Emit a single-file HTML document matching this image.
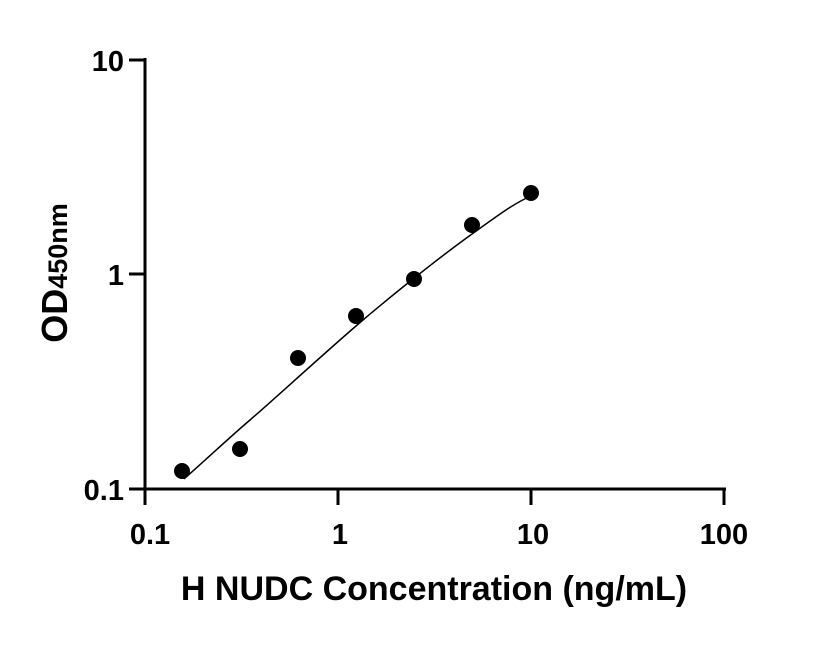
<!DOCTYPE html>
<html><head><style>body{margin:0;background:#fff}</style></head><body>
<svg width="816" height="640" xmlns="http://www.w3.org/2000/svg" font-family="Liberation Sans, sans-serif" font-weight="bold">
<g stroke="#000" stroke-width="3" fill="none">
<line x1="145" y1="58" x2="145" y2="505"/>
<line x1="129" y1="489" x2="726" y2="489"/>
<line x1="129" y1="60" x2="145" y2="60"/>
<line x1="129" y1="274" x2="145" y2="274"/>
<line x1="338" y1="489" x2="338" y2="505"/>
<line x1="531" y1="489" x2="531" y2="505"/>
<line x1="724" y1="489" x2="724" y2="505"/>
</g>
<path d="M184,479 C210,456 230,437 250,420 S320,357 356,326 S440,257 472,234 S515,203 531,196" stroke="#000" stroke-width="1.5" fill="none"/>
<g fill="#000">
<circle cx="182" cy="471" r="8"/><circle cx="240" cy="449" r="8"/><circle cx="298" cy="358" r="8"/><circle cx="356" cy="316" r="8"/><circle cx="414" cy="279" r="8"/><circle cx="472" cy="225" r="8"/><circle cx="531" cy="193" r="8"/>
</g>
<g font-size="29" text-anchor="end">
<text x="124" y="71">10</text><text x="124" y="285">1</text><text x="124" y="500">0.1</text>
</g>
<g font-size="29" text-anchor="middle">
<text x="150" y="544">0.1</text><text x="340" y="544">1</text><text x="533" y="544">10</text><text x="724" y="544">100</text>
</g>
<text x="434" y="600" font-size="34" text-anchor="middle">H NUDC Concentration (ng/mL)</text>
<text transform="translate(67,273) rotate(-90)" text-anchor="middle" font-size="36">OD<tspan font-size="27">450nm</tspan></text>
</svg>
</body></html>
